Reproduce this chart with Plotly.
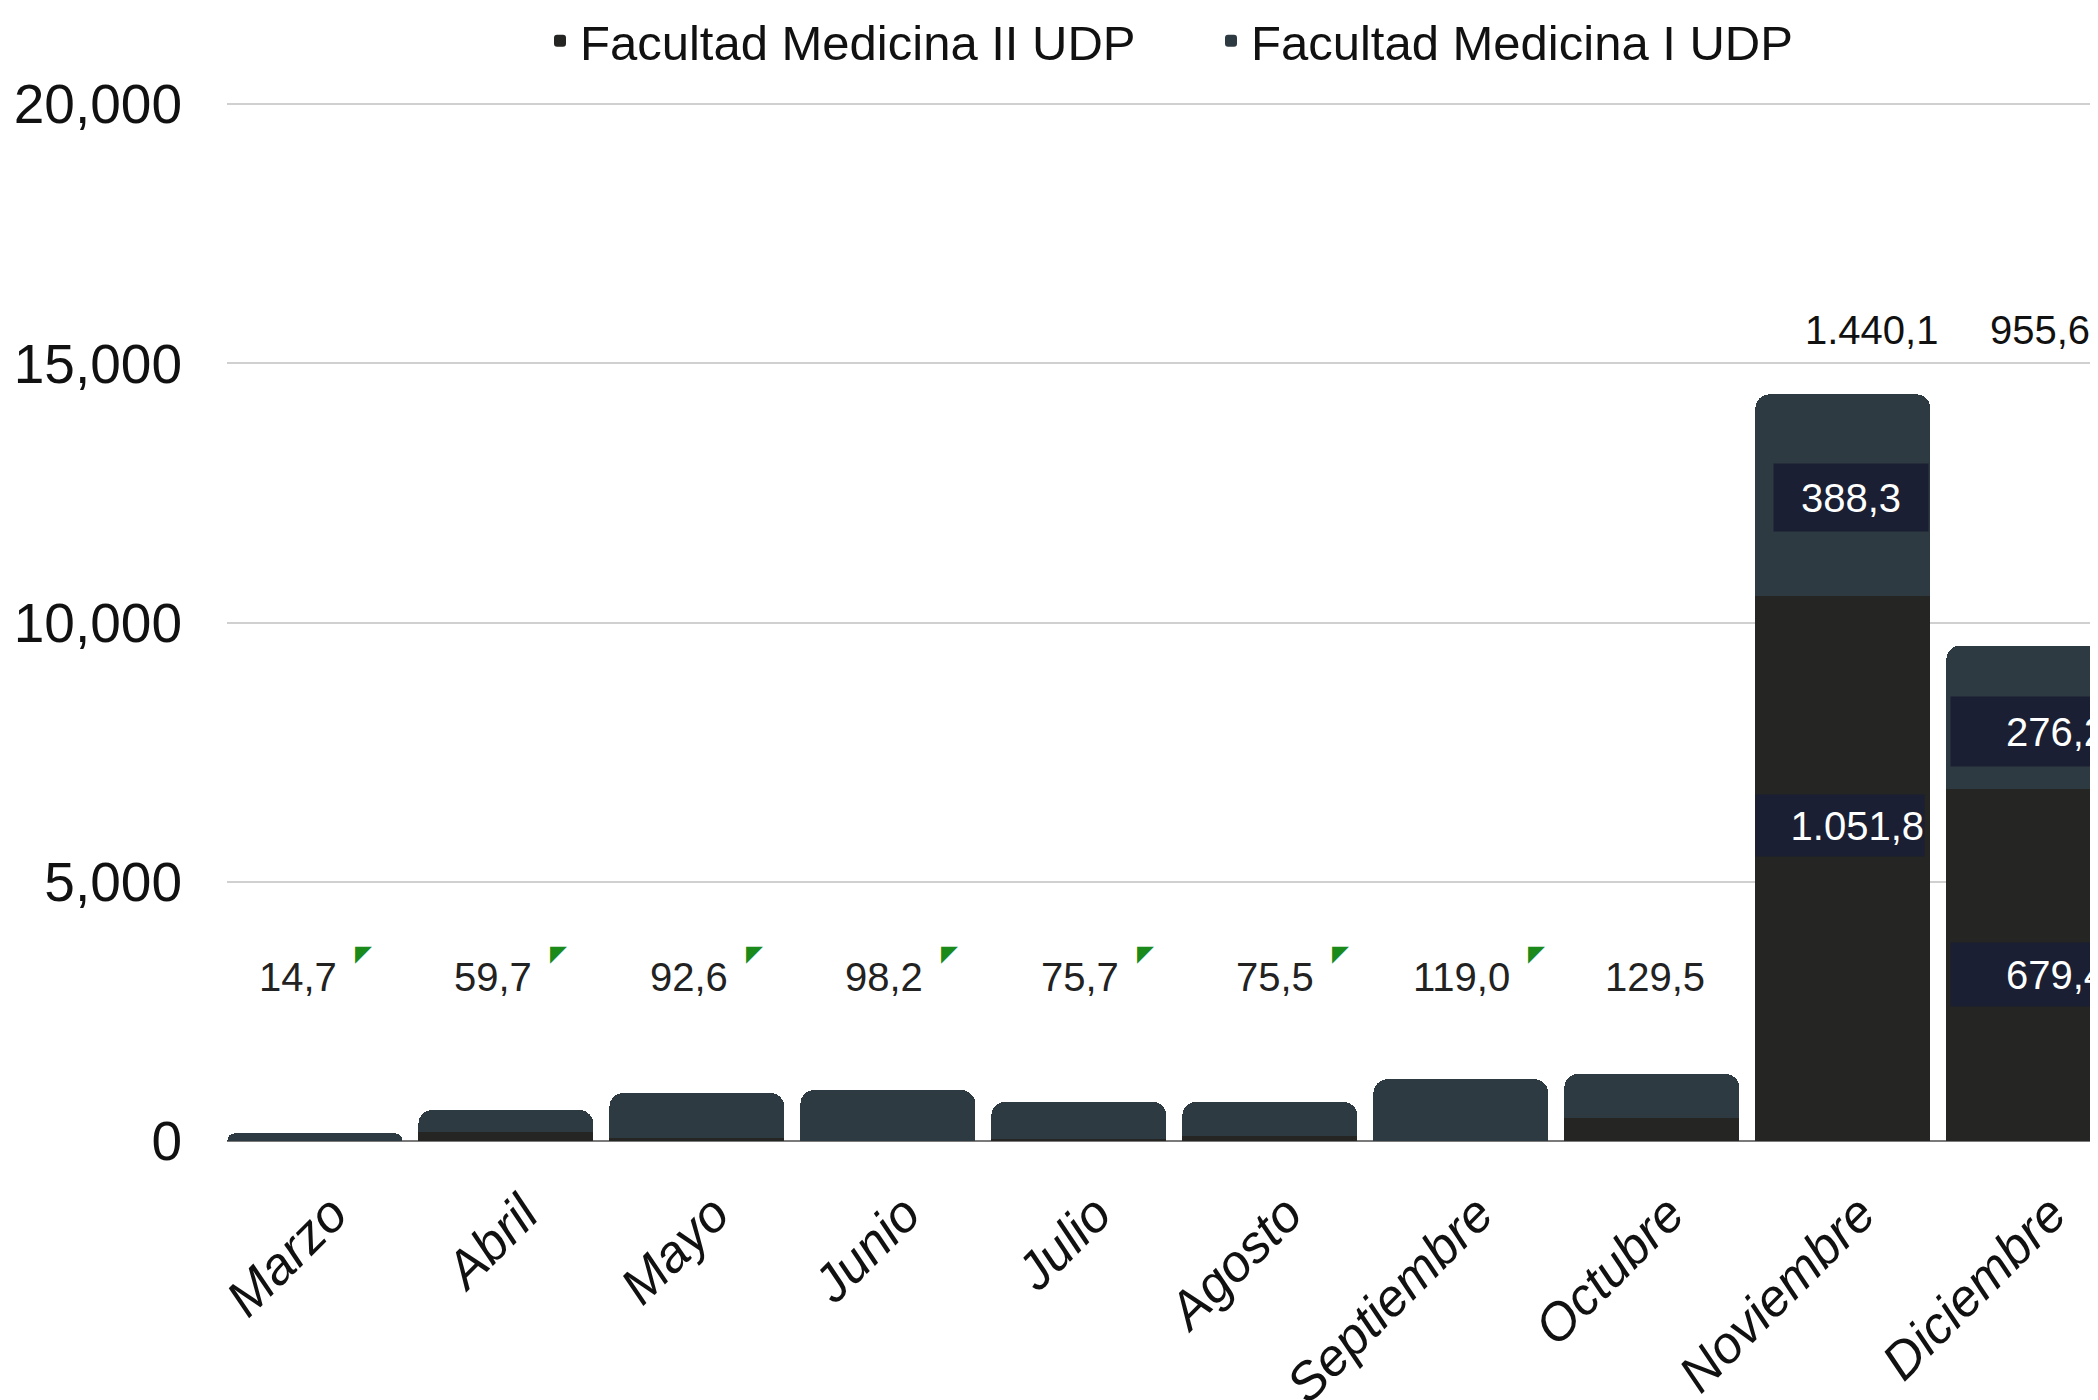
import plotly.graph_objects as go

# ---------------- data ----------------
months = ["Marzo", "Abril", "Mayo", "Junio", "Julio", "Agosto",
          "Septiembre", "Octubre", "Noviembre", "Diciembre"]
med2_values = [0, 175, 50, 0, 30, 105, 0, 435, 10518, 6794]      # Facultad Medicina II UDP (bottom)
med1_values = [147, 422, 876, 982, 727, 650, 1190, 860, 3883, 2762]  # Facultad Medicina I UDP (top)
y_ticks = [0, 5000, 10000, 15000, 20000]
flagged = [True, True, True, True, True, True, True, False, False, False]

totals = [a + b for a, b in zip(med2_values, med1_values)]


def es_fmt(v):
    s = f"{v / 10:,.1f}"
    return s.replace(",", "X").replace(".", ",").replace("X", ".")


# ---------------- style ----------------
C_MED2 = "#252523"
C_MED1 = "#2E3A42"
BOX_BG = "#1A1F33"
SANS = "Liberation Sans, Arial, sans-serif"

OFF = 8  # default page body margin
W, H = 2098 - OFF, 1400 - OFF
ML, MR, MT, MB = 227 - OFF, 0, 102 - OFF, 259
PW = W - ML - MR
PH = H - MT - MB
YMAX = 20040
BOT = H - MB  # plot bottom in figure px


def py(page_y):
    """page pixel y -> paper fraction"""
    return (BOT - (page_y - OFF)) / PH


def px(page_x):
    return (page_x - OFF - ML) / PW


fig = go.Figure()
fig.add_trace(go.Bar(x=months, y=med2_values, name="Facultad Medicina II UDP",
                     marker=dict(color=C_MED2, line=dict(width=0))))
fig.add_trace(go.Bar(x=months, y=med1_values, name="Facultad Medicina I UDP",
                     marker=dict(color=C_MED1, line=dict(width=0))))

annotations = []

# bottom row of small labels (months with small totals)
for i, m in enumerate(months):
    if i >= 8:
        continue
    right_px = 338.5 + 195.5 * i
    annotations.append(dict(
        xref="paper", yref="paper", x=px(right_px), y=py(977),
        xanchor="right", yanchor="middle", showarrow=False,
        text=es_fmt(totals[i]), font=dict(family=SANS, size=40, color="#222222")))
    if flagged[i]:
        annotations.append(dict(
            xref="paper", yref="paper", x=px(right_px + 14), y=py(953),
            xanchor="left", yanchor="middle", showarrow=False,
            text="◤", font=dict(family="DejaVu Sans", size=22, color="#1A8A1A")))

# top row of totals for the large months
for i, xs in ((8, 29), (9, 6)):
    annotations.append(dict(
        x=months[i], xref="x", yref="paper", y=py(330), xshift=xs,
        xanchor="center", yanchor="middle", showarrow=False,
        text=es_fmt(totals[i]), font=dict(family=SANS, size=40, color="#111111")))

# boxed segment labels
boxes = [
    (8, med2_values[8] + med1_values[8] / 2, med1_values[8], 8, -2, 154, 67, "center"),
    (8, med2_values[8] / 2, med2_values[8], -3, 43, 168, 61, "right"),
    (9, med2_values[9] + med1_values[9] / 2, med1_values[9], 22, -14, 210, 69, "center"),
    (9, med2_values[9] / 2, med2_values[9], 22, -10, 210, 63, "center"),
]
for i, yv, val, xs, ys, bw, bh, al in boxes:
    annotations.append(dict(
        x=months[i], y=yv, xref="x", yref="y", xshift=xs, yshift=ys,
        showarrow=False, text=es_fmt(val), align=al,
        width=bw, height=bh, bgcolor=BOX_BG, borderpad=0,
        font=dict(family=SANS, size=40, color="#FFFFFF")))

fig.update_layout(
    width=W, height=H,
    margin=dict(l=ML, r=MR, t=MT, b=MB, pad=0, autoexpand=False),
    paper_bgcolor="white", plot_bgcolor="white",
    barmode="stack", bargap=0.084, barcornerradius=14,
    showlegend=True,
    legend=dict(orientation="h", x=px(549 - 40 + 31), xanchor="left",
                y=py(41), yanchor="middle",
                traceorder="normal", entrywidth=626, entrywidthmode="pixels",
                font=dict(family=SANS, size=49, color="#111111"),
                bgcolor="rgba(0,0,0,0)"),
    xaxis=dict(range=[-0.46, -0.46 + PW / 191.0], tickangle=-45, automargin=False,
               showgrid=False, showline=False, ticks="",
               ticklabelstandoff=31, ticklabelshift=17,
               tickfont=dict(family=SANS, size=52, color="#111111", style="italic")),
    yaxis=dict(range=[0, YMAX], tickvals=y_ticks, tickformat=",d", automargin=False,
               showgrid=True, gridcolor="#D0D0D0", gridwidth=1.5,
               zeroline=True, zerolinecolor="#7A7A7A", zerolinewidth=2,
               showline=False, ticks="", ticklabelstandoff=44,
               tickfont=dict(family=SANS, size=55, color="#111111")),
    annotations=annotations,
)

fig.write_html("out.html")
